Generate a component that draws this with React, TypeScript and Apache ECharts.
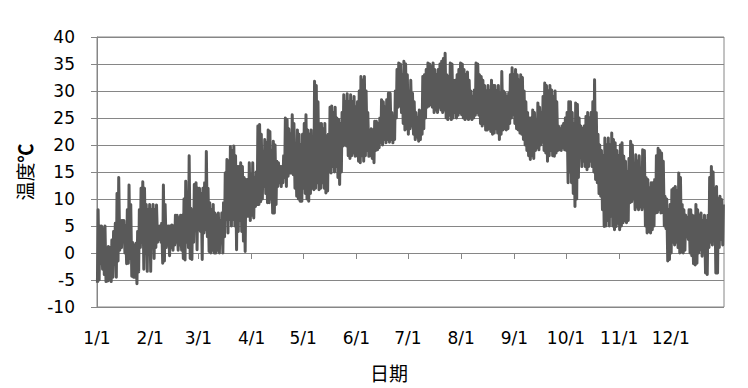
import React, { useEffect, useRef } from "react";
import * as echarts from "echarts";

// Daily high / low temperatures (°C), day 0 = Jan 1
const dailyHigh = [
  // Jan
  8, 5, 5, 4.5, 5, 1, 1.2, 1, 2.4, 4, 5.5, 11, 14, 6, 6, 6, 5, 8, 12.6, 9, 2, 1.5, 1.8, 4, 8, 12, 13.2, 12, 9, 8, 9,
  // Feb
  8, 9, 8, 8.9, 5, 5, 5.5, 12.6, 9, 5, 5, 5, 5.2, 5, 7, 7, 6.5, 7, 7, 10, 13.3, 9, 18, 8.3, 8, 12.7, 13, 12,
  // Mar
  12, 11, 12, 13, 18.8, 12, 9.3, 8, 9, 7.4, 7, 7.4, 6, 7.4, 9.3, 14.8, 17.3, 17, 19.7, 19, 19.8, 18, 16, 16, 16.7, 16, 14, 13.6, 13.6, 16.7, 14.5,
  // Apr
  16.7, 14, 15, 23.5, 23.8, 22, 18, 21, 20.4, 22.8, 22.5, 19, 20.7, 20, 17, 16.7, 16, 16, 18, 25, 24.7, 23, 22, 25.6, 24, 20, 22.8, 22, 20, 22,
  // May
  24, 25.6, 22.8, 22, 22.8, 21, 31.8, 31, 28, 24, 24, 23, 24, 21.6, 22, 27, 27.2, 26, 27, 25, 24.7, 24, 26, 29.3, 28, 29.5, 28, 29.3, 28, 29, 27,
  // Jun
  28, 30, 32.7, 32, 32.7, 30, 26, 22.8, 23, 22.8, 24.4, 24.4, 24, 25, 28.4, 28, 27, 28.4, 29.6, 29.6, 26, 25, 30, 34, 35.2, 35, 33, 35.5, 35, 33,
  // Jul
  30, 32, 29.6, 28, 26, 25, 26.5, 26, 32.7, 33, 34, 35.2, 35, 34.5, 35.2, 34, 33, 34, 35, 35.5, 36, 37, 33, 32.7, 35.2, 35, 32, 32, 33, 34, 35.2,
  // Aug
  35, 34, 33, 33.5, 32, 30, 29, 30.2, 35.2, 35, 33, 32.7, 32, 31, 30, 31, 30, 32, 31, 31, 30, 31, 29.6, 33.6, 30, 29.6, 29, 29.6, 33, 34.3, 33,
  // Sep
  34, 33, 32, 33, 32.5, 30, 28, 26, 25, 25, 26.5, 26, 24, 27.8, 27, 26, 29, 31.5, 31, 30, 31, 30.2, 29, 30, 28, 23.5, 23, 23.5, 24, 25,
  // Oct
  26, 28, 28, 26, 24, 27.8, 27.5, 25, 23.5, 23, 23.5, 25.3, 26, 25, 26, 28, 32.1, 26, 22, 20, 19, 18, 21.3, 20, 21.3, 20, 22.2, 21, 20.4, 19, 18,
  // Nov
  20, 20.4, 17.9, 17, 15, 17.5, 20.7, 20, 16, 18.2, 17, 18, 15, 19.1, 19, 14, 13.6, 12, 13, 13, 13.6, 18, 19.4, 19, 18.5, 17, 10.5, 10, 8, 9,
  // Dec
  11.7, 12, 12.3, 11.5, 14.8, 14, 9, 8, 7, 6.5, 8, 8, 7, 6.8, 9, 8, 7, 7.4, 6, 7, 6, 7, 14, 16, 15, 12, 12.3, 10, 10.5, 9.9, 9,
];

const dailyLow = [
  // Jan
  -5.5, -5, -2, -3, -4, -5.3, -5.2, -5, -5.3, -4.5, -2, -4.5, -1.5, 0.5, 1, 2.5, 0, -2, -1.9, -1, -4.3, -4.5, -4.5, -5.7, -3.5, 1, 2, -3, 0, -3.4, 1,
  // Feb
  -3.4, 2, -1, 1, 2, 2.5, 2, -1.9, -1.5, 1, 1.5, -0.5, 1, 0.5, 1.5, 2, 0.5, 1.5, 0.5, -1, -1.3, 2, 1, -1, -1.2, 2, 4.3, 0.6,
  // Mar
  4.3, 4, -1.2, 3.7, 4.3, 3, 0.3, 0, 0.5, 0, 0, 0.5, 0, 2, 0, 3, 6.2, 3.7, 6.2, 5, 6.2, 5, 0.6, 4, 6, 4, 2.2, 0.3, 6.8, 6.8, 6,
  // Apr
  7, 6.5, 8.6, 9, 9, 9.5, 10, 12.3, 11, 9.3, 9.3, 10, 7.4, 7.4, 9, 12.3, 13, 12.3, 13, 14, 12.3, 14.2, 14.8, 14.8, 14.5, 12, 10.5, 10, 9.6, 9.6,
  // May
  12, 11, 10, 9.6, 11, 12, 11.7, 12, 13, 11.7, 12, 13, 12, 11.1, 11.5, 15, 14.8, 16, 15, 16, 14, 12.7, 15, 19.8, 20, 19.8, 18, 17.5, 18, 18.5, 17.9,
  // Jun
  18, 17, 16.7, 18, 17, 18, 19, 17.9, 18, 17.5, 16.7, 19, 19.1, 19.5, 20.4, 20, 21, 20.4, 21, 20.5, 21, 20.4, 21, 25, 27, 27.2, 26, 24, 22.8, 23,
  // Jul
  22, 23, 23.5, 22, 21, 21.5, 20.7, 21, 22, 23, 25, 27, 27.2, 27.5, 27, 26, 26.5, 26, 27, 26.5, 26, 26.5, 25, 24.7, 25.5, 24.7, 25, 26, 25, 25.5, 26,
  // Aug
  25.6, 25, 24.7, 25, 24.7, 25, 24.7, 25, 25.5, 26, 25.5, 24, 23.5, 24, 22.8, 22.8, 23, 22.5, 22, 22.2, 23, 22.2, 21, 22, 22.8, 23, 22.8, 23, 24, 25, 25.6,
  // Sep
  24, 23, 22.8, 22.2, 22, 21, 20, 19, 18, 17.3, 18, 17.5, 19, 19.5, 19.1, 20, 20.5, 19, 18.5, 17, 18, 19, 18, 17.9, 18.5, 19, 19.1, 19, 19.5, 19.1,
  // Oct
  19, 13, 15, 13, 11, 8.6, 10, 14, 17.9, 16, 17, 16, 15.4, 16, 17, 16, 15, 13.6, 13, 11, 10.5, 8, 4.9, 5, 6, 5, 6.8, 5, 4.3, 4.9, 5.5,
  // Nov
  4.3, 5, 5.6, 6, 5.6, 6, 9.3, 9.5, 10, 8, 8.5, 8, 8.5, 8, 8.5, 5, 3.7, 4, 3.7, 4.3, 5, 7.4, 7.5, 8, 7.4, 7.5, 5, 4.5, -1.5, -1.2,
  // Dec
  0, 2, 1.5, 2, 1, 0, 0.3, 0, 0.5, 3, 2.5, 0, -0.5, -2, -2.2, -1.9, 0, 0.6, -0.6, 0.5, -3.7, -4, 1, 2, 1.5, 3, -3.7, -3.7, 1, 2.5, 1.5,
];

const monthStartDays = [0, 31, 59, 90, 120, 151, 181, 212, 243, 273, 304, 334];
const monthLabels = ["1/1", "2/1", "3/1", "4/1", "5/1", "6/1", "7/1", "8/1", "9/1", "10/1", "11/1", "12/1"];

const yMin = -10;
const yMax = 40;
const yStep = 5;
const daysInYear = 365;

const yTitle = "温度";
const yUnit = "℃";
const xTitle = "日期";

export default function App() {
  const ref = useRef<HTMLDivElement>(null);

  useEffect(() => {
    if (!ref.current) return;
    const chart = echarts.init(ref.current, null, { renderer: "svg" });

    const points: number[][] = [];
    for (let d = 0; d < dailyHigh.length; d++) {
      points.push([d + 0.25, dailyLow[d]]);
      points.push([d + 0.65, dailyHigh[d]]);
    }

    const gridColor = "#868686";
    const labelFont = "DejaVu Sans";

    chart.setOption({
      animation: false,
      backgroundColor: "#ffffff",
      grid: {
        left: 97,
        top: 37,
        width: 627,
        height: 270,
        show: true,
        borderColor: gridColor,
        borderWidth: 1,
      },
      xAxis: [
        {
          type: "value",
          min: 0,
          max: daysInYear,
          position: "bottom",
          axisLine: { show: true, onZero: true, lineStyle: { color: gridColor, width: 1 } },
          axisTick: {
            show: true,
            customValues: monthStartDays,
            length: 6,
            inside: false,
            lineStyle: { color: gridColor, width: 1 },
          },
          axisLabel: { show: false },
          splitLine: { show: false },
        },
        {
          type: "value",
          min: 0,
          max: daysInYear,
          position: "bottom",
          axisLine: { show: false, onZero: false },
          axisTick: { show: false },
          splitLine: { show: false },
          axisLabel: {
            show: true,
            customValues: monthStartDays,
            margin: 22,
            color: "#000",
            fontFamily: labelFont,
            fontSize: 17,
            formatter: (v: number) => {
              const i = monthStartDays.indexOf(Math.round(v));
              return i >= 0 ? monthLabels[i] : "";
            },
          },
        },
      ],
      yAxis: {
        type: "value",
        min: yMin,
        max: yMax,
        interval: yStep,
        axisLine: { show: true, lineStyle: { color: gridColor, width: 1 } },
        axisTick: { show: true, length: 6, inside: false, lineStyle: { color: gridColor } },
        splitLine: { show: true, lineStyle: { color: gridColor, width: 1 } },
        axisLabel: {
          margin: 22,
          color: "#000",
          fontFamily: labelFont,
          fontSize: 17,
        },
      },
      series: [
        {
          type: "line",
          xAxisIndex: 0,
          data: points,
          showSymbol: false,
          symbol: "none",
          lineStyle: { color: "#595959", width: 3, join: "round" },
          itemStyle: { color: "#595959" },
        },
      ],
      graphic: [
        {
          type: "text",
          x: 24,
          y: 172,
          rotation: Math.PI / 2,
          style: {
            text: yTitle + "{u|" + yUnit + "}",
            align: "center",
            verticalAlign: "middle",
            fontFamily: "Noto Sans CJK SC",
            fontSize: 19,
            fill: "#000",
            rich: {
              u: { fontFamily: "Noto Sans CJK SC", fontSize: 19, fontWeight: "bold", fill: "#000" },
            },
          },
        },
        {
          type: "text",
          x: 389,
          y: 372,
          style: {
            text: xTitle,
            align: "center",
            verticalAlign: "middle",
            fontFamily: "Noto Sans CJK SC",
            fontSize: 19,
            fill: "#000",
          },
        },
      ],
    });

    return () => {
      chart.dispose();
    };
  }, []);

  return (
    <div
      ref={ref}
      style={{ position: "fixed", left: 0, top: 0, width: 748, height: 388 }}
    />
  );
}
